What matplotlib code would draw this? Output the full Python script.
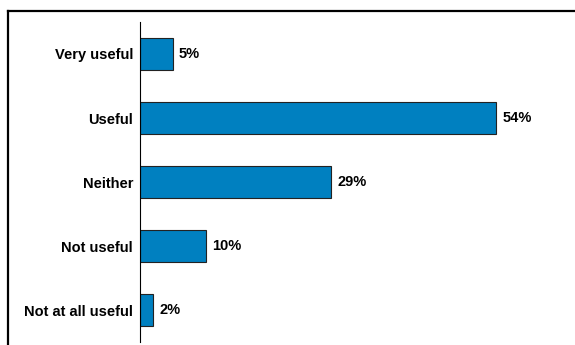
import matplotlib.pyplot as plt
from matplotlib.lines import Line2D

categories = ["Very useful", "Useful", "Neither", "Not useful", "Not at all useful"]
values = [5, 54, 29, 10, 2]
value_labels = ["5%", "54%", "29%", "10%", "2%"]

plt.rcParams["font.family"] = ["Liberation Sans", "DejaVu Sans"]
plt.rcParams["font.weight"] = "bold"

fig = plt.figure(figsize=(5.75, 3.45), dpi=100)
W, H = 575, 345

# axes placed in pixel terms: left 140, top 22, bottom 342
ax = fig.add_axes([140 / W, (H - 342) / H, 396 / W, 320 / H])

pos = list(range(len(categories)))
ax.barh(pos, values, height=0.5, color="#0080C0", edgecolor="#222222", linewidth=0.8)
ax.set_ylim(len(categories) - 0.5, -0.5)
ax.set_xlim(0, 60)

for y, v, lab in zip(pos, values, value_labels):
    ax.text(v + 0.9, y, lab, va="center", ha="left", fontsize=10.5, fontweight="bold")

ax.set_yticks(pos)
ax.set_yticklabels(categories, fontsize=10.5, fontweight="bold")
ax.tick_params(axis="y", length=0, pad=5)
ax.set_xticks([])
for s in ["top", "right", "bottom"]:
    ax.spines[s].set_visible(False)
ax.spines["left"].set_linewidth(0.8)

# frame around the chart: top and left edges
fig.add_artist(Line2D([7.5 / W, 1.0], [1 - 10.5 / H, 1 - 10.5 / H],
                      transform=fig.transFigure, color="black", linewidth=1.6))
fig.add_artist(Line2D([7.5 / W, 7.5 / W], [0.0, 1 - 10.5 / H],
                      transform=fig.transFigure, color="black", linewidth=1.6))

fig.savefig("out.png", dpi=100)
